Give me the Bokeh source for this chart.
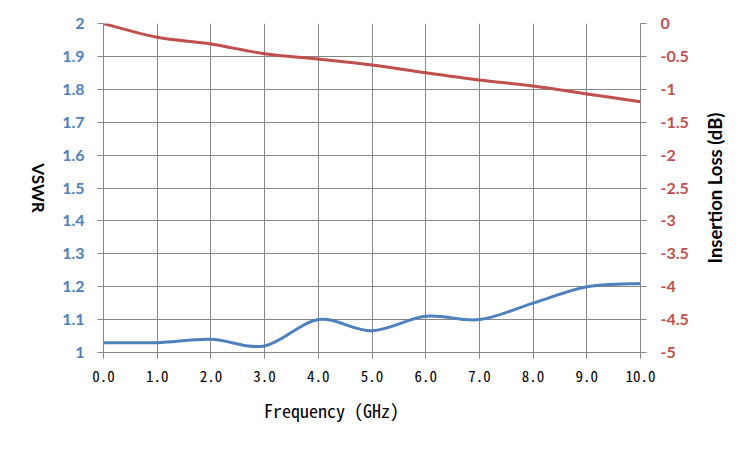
import math
from bokeh.plotting import figure
from bokeh.models import (LinearAxis, Range1d, FixedTicker, Label)
from bokeh.embed import file_html
from bokeh.resources import INLINE

# ---- data ----
freq_ghz = [0.0, 1.0, 2.0, 3.0, 4.0, 5.0, 6.0, 7.0, 8.0, 9.0, 10.0]
vswr = [1.03, 1.03, 1.04, 1.02, 1.10, 1.066, 1.11, 1.10, 1.15, 1.20, 1.21]
insertion_loss_db = [0.0, -0.21, -0.31, -0.46, -0.54, -0.63, -0.75, -0.86, -0.95, -1.07, -1.19]

x_ticks = [0, 1, 2, 3, 4, 5, 6, 7, 8, 9, 10]
vswr_ticks = [1.0, 1.1, 1.2, 1.3, 1.4, 1.5, 1.6, 1.7, 1.8, 1.9, 2.0]
il_ticks = [0.0, -0.5, -1.0, -1.5, -2.0, -2.5, -3.0, -3.5, -4.0, -4.5, -5.0]

BLUE = "#4F81BD"
RED = "#C0504D"
GRID = "#878787"
MONO = "'Noto Sans Mono CJK JP', 'Noto Sans Mono CJK SC', 'Liberation Mono', monospace"


def fmt(v):
    s = f"{v:.1f}"
    return s[:-2] if s.endswith(".0") else s


def smooth_segments(xs, ys):
    """Catmull-Rom style bezier control points (like a spreadsheet 'smoothed line')."""
    n = len(xs)
    out = dict(x0=[], y0=[], x1=[], y1=[], cx0=[], cy0=[], cx1=[], cy1=[])
    for i in range(n - 1):
        pm = max(i - 1, 0)
        pp = min(i + 2, n - 1)
        out["x0"].append(xs[i]); out["y0"].append(ys[i])
        out["x1"].append(xs[i + 1]); out["y1"].append(ys[i + 1])
        out["cx0"].append(xs[i] + (xs[i + 1] - xs[pm]) / 6.0)
        out["cy0"].append(ys[i] + (ys[i + 1] - ys[pm]) / 6.0)
        out["cx1"].append(xs[i + 1] - (xs[pp] - xs[i]) / 6.0)
        out["cy1"].append(ys[i + 1] - (ys[pp] - ys[i]) / 6.0)
    return out


p = figure(width=745, height=440, output_backend="svg", toolbar_location=None,
           x_range=Range1d(0, 10), y_range=Range1d(1, 2),
           min_border_left=103, min_border_right=105, min_border_top=23,
           min_border_bottom=88)
p.outline_line_color = None
p.background_fill_color = "white"
p.border_fill_color = "white"

p.extra_y_ranges = {"il": Range1d(-5, 0)}

# grid
p.xgrid.ticker = FixedTicker(ticks=x_ticks)
p.ygrid.ticker = FixedTicker(ticks=vswr_ticks)
for g in (p.xgrid[0], p.ygrid[0]):
    g.grid_line_color = GRID
    g.grid_line_width = 1

# x axis
xa = p.xaxis[0]
xa.ticker = FixedTicker(ticks=x_ticks)
xa.major_label_overrides = {t: f"{t:.1f}" for t in x_ticks}
xa.major_label_text_font = MONO
xa.major_label_text_font_size = "15px"
xa.major_label_text_color = "black"
xa.major_label_standoff = 12
xa.axis_line_color = GRID
xa.major_tick_line_color = GRID
xa.major_tick_out = 6
xa.major_tick_in = 0
xa.minor_tick_line_color = None
# title is centred a little left of the plot frame in the original
xa.axis_label = "Frequency (GHz)" + "\u00a0" * 9
xa.axis_label_text_font = MONO
xa.axis_label_text_font_size = "18px"
xa.axis_label_text_font_style = "normal"
xa.axis_label_text_color = "black"
xa.axis_label_standoff = 12

# left axis
ya = p.yaxis[0]
ya.ticker = FixedTicker(ticks=vswr_ticks)
ya.major_label_overrides = {t: fmt(t) for t in vswr_ticks}
ya.major_label_text_font = "Lato"
ya.major_label_text_font_style = "bold"
ya.major_label_text_font_size = "16px"
ya.major_label_text_color = BLUE
ya.major_label_standoff = 13
ya.axis_line_color = GRID
ya.major_tick_line_color = GRID
ya.major_tick_out = 6
ya.major_tick_in = 0
ya.minor_tick_line_color = None

# right axis
ra = LinearAxis(y_range_name="il", ticker=FixedTicker(ticks=il_ticks))
ra.major_label_overrides = {t: fmt(t) for t in il_ticks}
ra.major_label_text_font = "Lato"
ra.major_label_text_font_style = "bold"
ra.major_label_text_font_size = "16px"
ra.major_label_text_color = RED
ra.major_label_standoff = 14
ra.axis_line_color = GRID
ra.major_tick_line_color = GRID
ra.major_tick_out = 6
ra.major_tick_in = 0
ra.minor_tick_line_color = None
p.add_layout(ra, "right")

# axis titles (rotated like the original: left reads downwards, right reads upwards)
p.add_layout(Label(x=-1.21, y=1.5, text="VSWR", angle=-math.pi / 2,
                   text_align="center", text_baseline="middle",
                   text_font="Lato", text_font_style="bold", text_font_size="17px",
                   text_color="black"), "left")
p.add_layout(Label(x=11.38, y=-2.5, y_range_name="il", text="Insertion Loss (dB)",
                   angle=math.pi / 2, text_align="center", text_baseline="middle",
                   text_font="Lato", text_font_style="bold", text_font_size="18.5px",
                   text_color="black"), "right")

# curves
b = smooth_segments(freq_ghz, vswr)
p.bezier(x0=b["x0"], y0=b["y0"], x1=b["x1"], y1=b["y1"],
         cx0=b["cx0"], cy0=b["cy0"], cx1=b["cx1"], cy1=b["cy1"],
         line_color=BLUE, line_width=3, line_cap="round")
r = smooth_segments(freq_ghz, insertion_loss_db)
p.bezier(x0=r["x0"], y0=r["y0"], x1=r["x1"], y1=r["y1"],
         cx0=r["cx0"], cy0=r["cy0"], cx1=r["cx1"], cy1=r["cy1"],
         line_color=RED, line_width=3, line_cap="round", y_range_name="il")

open("out.html", "w").write(file_html(p, INLINE))
